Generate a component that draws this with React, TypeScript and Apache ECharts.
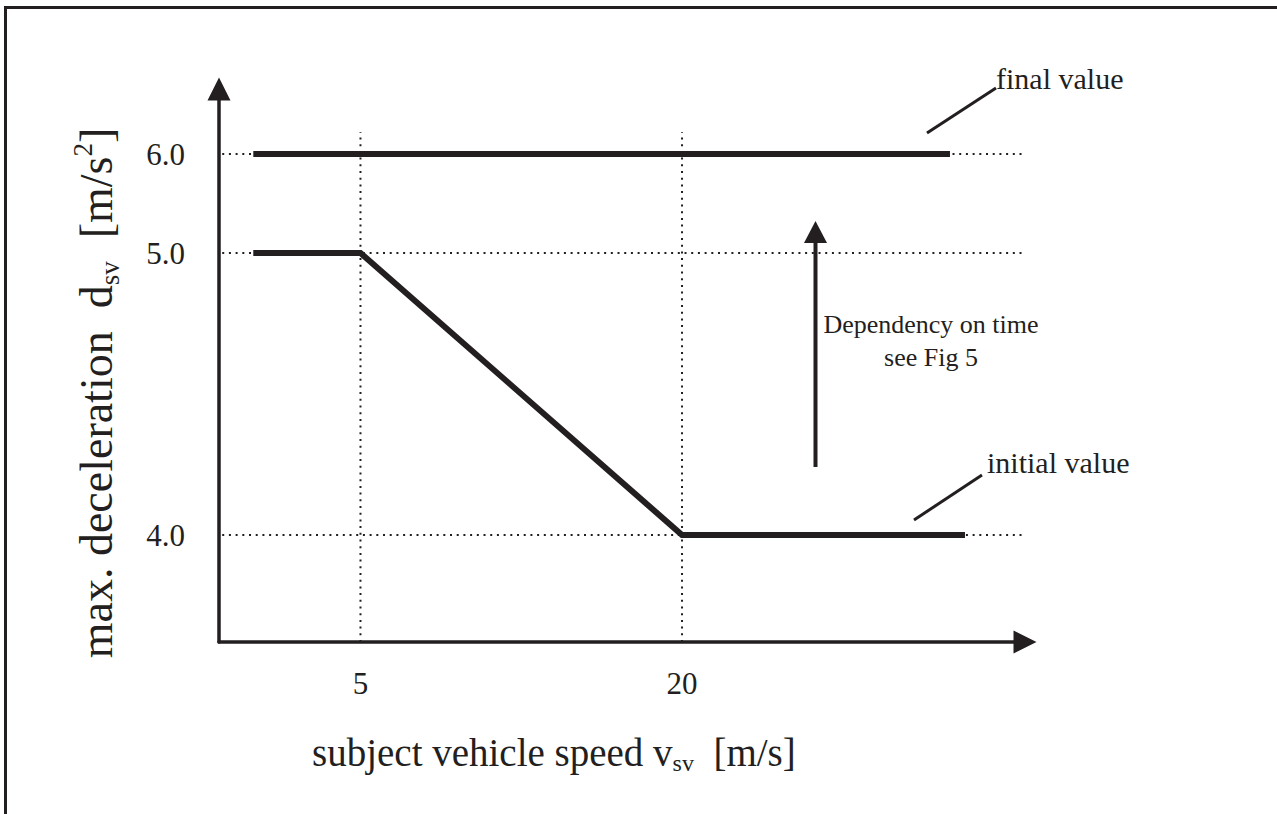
import React, { useEffect, useRef } from "react";
import * as echarts from "echarts";

// ---- data ----
const speedTicks = [5, 20];
const speedTickLabels = ["5", "20"];
const decelTicks = [4.0, 5.0, 6.0];
const decelTickLabels = ["4.0", "5.0", "6.0"];

const finalSpeed = [0, 32.5];
const finalDecel = [6.0, 6.0];

const initialSpeed = [0, 5, 20, 33.2];
const initialDecel = [5.0, 5.0, 4.0, 4.0];

// the figure is schematic: its vertical scale is not linear in deceleration.
// anchors: deceleration value -> vertical axis position
const decelAnchors = [4.0, 5.0, 6.0];
const axisAnchors = [1.07, 3.89, 4.88];

function toAxis(d: number): number {
  const a = decelAnchors;
  const p = axisAnchors;
  const i = d <= a[1] ? 0 : 1;
  const t = (d - a[i]) / (a[i + 1] - a[i]);
  return p[i] + t * (p[i + 1] - p[i]);
}

const INK = "#231f20";
const FONT = "'Liberation Serif', 'Times New Roman', serif";

const X_MIN = -1.6;
const X_MAX = 36;
const Y_MAX = 5.53;
const GUIDE_X_START = -1.45;
const GUIDE_X_END = 36.4;
const GUIDE_TOP = 5.1;

export default function App() {
  const ref = useRef<HTMLDivElement>(null);
  useEffect(() => {
    const chart = echarts.init(ref.current!, null, { renderer: "svg" });
    const guideStyle = { color: INK, width: 2, type: [2, 4.7] as any };

    const hGuides = decelTicks.map((d) => ({
      type: "line",
      data: [
        [GUIDE_X_START, toAxis(d)],
        [GUIDE_X_END, toAxis(d)],
      ],
      symbol: "none",
      lineStyle: guideStyle,
      silent: true,
      clip: false,
      z: 1,
    }));
    const vGuides = speedTicks.map((s) => ({
      type: "line",
      data: [
        [s, 0],
        [s, GUIDE_TOP],
      ],
      symbol: "none",
      lineStyle: guideStyle,
      silent: true,
      clip: false,
      z: 1,
    }));

    const option: any = {
      animation: false,
      backgroundColor: "#ffffff",
      grid: {
        left: 219,
        right: 252,
        top: 89,
        bottom: 172,
        outerBoundsMode: "none",
      },
      xAxis: {
        type: "value",
        min: X_MIN,
        max: X_MAX,
        splitLine: { show: false },
        axisTick: { show: false },
        axisLine: {
          show: true,
          onZero: false,
          symbol: ["none", "triangle"],
          symbolSize: [23, 23],
          lineStyle: { color: INK, width: 3.5 },
        },
        axisLabel: {
          customValues: speedTicks,
          formatter: (v: number) => {
            const i = speedTicks.findIndex((s) => Math.abs(s - v) < 1e-6);
            return i >= 0 ? speedTickLabels[i] : "";
          },
          color: INK,
          fontSize: 31,
          fontFamily: FONT,
          margin: 26,
        },
      },
      yAxis: {
        type: "value",
        min: 0,
        max: Y_MAX,
        splitLine: { show: false },
        axisTick: { show: false },
        axisLine: {
          show: true,
          onZero: false,
          symbol: ["none", "triangle"],
          symbolSize: [23, 23],
          lineStyle: { color: INK, width: 3.5 },
        },
        axisLabel: {
          customValues: decelTicks.map(toAxis),
          formatter: (v: number) => {
            const i = decelTicks.findIndex((d) => Math.abs(toAxis(d) - v) < 1e-6);
            return i >= 0 ? decelTickLabels[i] : "";
          },
          color: INK,
          fontSize: 31,
          fontFamily: FONT,
          margin: 34,
        },
      },
      series: [
        ...hGuides,
        ...vGuides,
        {
          name: "final value",
          type: "line",
          data: finalSpeed.map((x, i) => [x, toAxis(finalDecel[i])]),
          symbol: "none",
          lineStyle: { color: INK, width: 6 },
          silent: true,
          z: 3,
        },
        {
          name: "initial value",
          type: "line",
          data: initialSpeed.map((x, i) => [x, toAxis(initialDecel[i])]),
          symbol: "none",
          lineStyle: { color: INK, width: 6, join: "miter" },
          silent: true,
          z: 3,
        },
      ],
      graphic: [
        {
          type: "rect",
          shape: { x: 5.5, y: 7.5, width: 1400, height: 1000 },
          style: { fill: "none", stroke: INK, lineWidth: 3 },
          silent: true,
        },
        // y-axis title
        {
          type: "text",
          x: 96,
          y: 393,
          rotation: Math.PI / 2,
          style: {
            text: "{a|max. deceleration  d}{s|sv}{a|  [m/s}{p|2}{a|]}",
            align: "center",
            verticalAlign: "middle",
            fill: INK,
            rich: {
              a: { fontSize: 46, fontFamily: FONT, fill: INK, lineHeight: 54 },
              s: { fontSize: 27, fontFamily: FONT, fill: INK, verticalAlign: "bottom" },
              p: { fontSize: 27, fontFamily: FONT, fill: INK, verticalAlign: "top" },
            },
          },
          silent: true,
        },
        // x-axis title
        {
          type: "text",
          x: 312,
          y: 752,
          style: {
            text: "{a|subject vehicle speed v}{s|sv}{a|  [m/s]}",
            align: "left",
            verticalAlign: "middle",
            fill: INK,
            rich: {
              a: { fontSize: 39, fontFamily: FONT, fill: INK, lineHeight: 46 },
              s: { fontSize: 24, fontFamily: FONT, fill: INK, verticalAlign: "bottom" },
            },
          },
          silent: true,
        },
        // annotations
        {
          type: "text",
          x: 996,
          y: 78,
          style: { text: "final value", font: `30px ${FONT}`, fill: INK, align: "left", verticalAlign: "middle" },
          silent: true,
        },
        {
          type: "line",
          shape: { x1: 927, y1: 133, x2: 996, y2: 88 },
          style: { stroke: INK, lineWidth: 3 },
          silent: true,
        },
        {
          type: "text",
          x: 987,
          y: 462,
          style: { text: "initial value", font: `30px ${FONT}`, fill: INK, align: "left", verticalAlign: "middle" },
          silent: true,
        },
        {
          type: "line",
          shape: { x1: 914, y1: 520, x2: 982, y2: 475 },
          style: { stroke: INK, lineWidth: 3 },
          silent: true,
        },
        {
          type: "text",
          x: 931,
          y: 341,
          style: {
            text: "Dependency on time\nsee Fig 5",
            font: `26px ${FONT}`,
            lineHeight: 33,
            fill: INK,
            align: "center",
            verticalAlign: "middle",
          },
          silent: true,
        },
        {
          type: "line",
          shape: { x1: 815.5, y1: 467, x2: 815.5, y2: 240 },
          style: { stroke: INK, lineWidth: 4 },
          silent: true,
        },
        {
          type: "polygon",
          shape: { points: [[804, 243], [827, 243], [815.5, 221]] },
          style: { fill: INK },
          silent: true,
        },
      ],
    };
    chart.setOption(option);
    return () => chart.dispose();
  }, []);
  return (
    <div
      ref={ref}
      style={{ position: "absolute", left: 0, top: 0, width: 1277, height: 814, background: "#fff" }}
    />
  );
}
